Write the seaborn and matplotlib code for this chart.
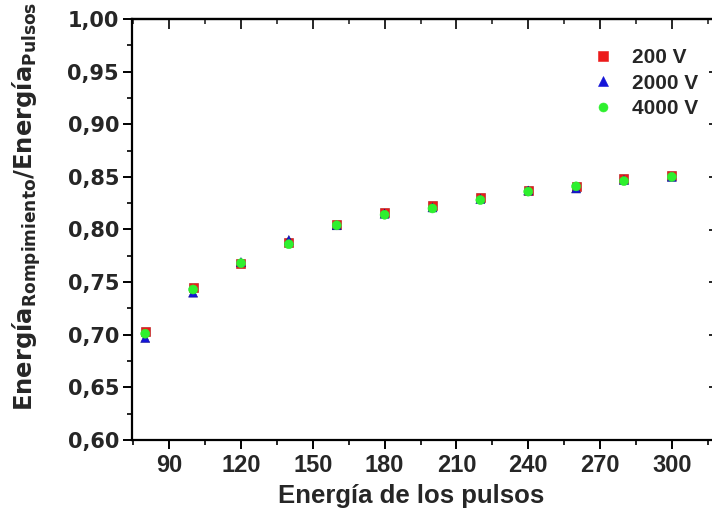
import matplotlib
matplotlib.use("Agg")
import matplotlib.pyplot as plt
from matplotlib.ticker import MultipleLocator, FuncFormatter
import seaborn as sns
import pandas as pd

energia = [80, 100, 120, 140, 160, 180, 200, 220, 240, 260, 280, 300]
v200 = [0.703, 0.745, 0.768, 0.788, 0.805, 0.816, 0.823, 0.830, 0.837, 0.841, 0.848, 0.851]
v2000 = [0.697, 0.740, 0.769, 0.790, 0.804, 0.815, 0.821, 0.829, 0.837, 0.839, 0.847, 0.850]
v4000 = [0.701, 0.743, 0.768, 0.786, 0.804, 0.814, 0.820, 0.828, 0.836, 0.841, 0.846, 0.850]
series = ["200 V", "2000 V", "4000 V"]

df = pd.concat([
    pd.DataFrame({"x": energia, "y": v, "serie": s})
    for v, s in zip([v200, v2000, v4000], series)
], ignore_index=True)

sns.set_style("white")
plt.rcParams["font.family"] = ["Liberation Sans", "DejaVu Sans"]
plt.rcParams["font.weight"] = "bold"
plt.rcParams["mathtext.fontset"] = "dejavusans"

fig = plt.figure(figsize=(7.12, 5.18), dpi=100)
W, H = 712, 518
left, right, top, bottom = 132.3, 719, 19, 440
ax = fig.add_axes([left / W, 1 - bottom / H, (right - left) / W, (bottom - top) / H])

palette = {"200 V": "#ec1a1a", "2000 V": "#1414d8", "4000 V": "#2ef02e"}
edges = {"200 V": "#b01010", "2000 V": "#0a0a90", "4000 V": "#2ef02e"}
markers = {"200 V": "s", "2000 V": "^", "4000 V": "o"}

sns.scatterplot(data=df, x="x", y="y", hue="serie", style="serie",
                palette=palette, markers=markers, s=42, linewidth=0.4,
                ax=ax, zorder=3)
ax.collections[0].set_edgecolor([edges[s] for s in df["serie"]])

ax.set_xlim(74.6, 319.7)
ax.set_ylim(0.60, 1.00)
ax.xaxis.set_major_locator(MultipleLocator(30))
ax.xaxis.set_minor_locator(MultipleLocator(15))
ax.yaxis.set_major_locator(MultipleLocator(0.05))
ax.yaxis.set_minor_locator(MultipleLocator(0.025))
ax.xaxis.set_major_formatter(FuncFormatter(lambda v, p: f"{v:.0f}" if v >= 90 else ""))
ax.yaxis.set_major_formatter(FuncFormatter(lambda v, p: f"{v:.2f}".replace(".", ",")))

for sp in ax.spines.values():
    sp.set_visible(True)
    sp.set_linewidth(1.6)
    sp.set_color("black")

ax.tick_params(axis="both", which="major", length=6.5, width=1.4, color="black")
ax.tick_params(axis="both", which="minor", length=3.3, width=1.2, color="black")
ax.tick_params(axis="x", which="both", direction="out", bottom=True, top=False)
ax.tick_params(axis="y", which="both", direction="out", left=True, right=False)
ax.tick_params(axis="x", which="major", pad=3.5)
ax.tick_params(axis="y", which="major", pad=3)
for lab in ax.get_xticklabels():
    lab.set_fontweight("bold")
    lab.set_fontsize(17)
    lab.set_family(["Liberation Sans"])
for lab in ax.get_yticklabels():
    lab.set_fontweight("bold")
    lab.set_fontsize(15)
    lab.set_family(["DejaVu Sans"])

# inward ticks on top and right axes
sec_x = ax.secondary_xaxis("top")
sec_x.xaxis.set_major_locator(MultipleLocator(30))
sec_x.xaxis.set_minor_locator(MultipleLocator(15))
sec_x.tick_params(which="major", direction="in", length=7, width=1.4, labeltop=False)
sec_x.tick_params(which="minor", direction="in", length=3.6, width=1.2)
sec_x.spines["top"].set_linewidth(1.6)
sec_y = ax.secondary_yaxis("right")
sec_y.yaxis.set_major_locator(MultipleLocator(0.05))
sec_y.yaxis.set_minor_locator(MultipleLocator(0.025))
sec_y.tick_params(which="major", direction="in", length=7, width=1.4, labelright=False)
sec_y.tick_params(which="minor", direction="in", length=3.6, width=1.2)

ax.set_xlabel("Energía de los pulsos", fontsize=18.5, fontweight="bold")
ax.xaxis.set_label_coords((411 - left) / (right - left), -0.105)
ax.set_ylabel(r"$\mathbf{Energía}_{\mathrm{Rompimiento}}\mathbf{/Energía}_{\mathrm{Pulsos}}$",
              fontsize=17.5)
ax.yaxis.set_label_coords(-0.152, 0.555)

handles, labels = ax.get_legend_handles_labels()
for h, l in zip(handles, labels):
    h.set_markeredgecolor(palette[l])
leg = ax.legend(handles, labels, loc="upper left",
                bbox_to_anchor=((582 - left) / (right - left), 1 - (40 - top) / (bottom - top)),
                frameon=False, fontsize=15, handletextpad=0.8, labelspacing=0.3,
                borderaxespad=0, handlelength=1.2, markerscale=1.0)
for t in leg.get_texts():
    t.set_fontweight("bold")

fig.savefig("out.png", dpi=100, facecolor="white")
